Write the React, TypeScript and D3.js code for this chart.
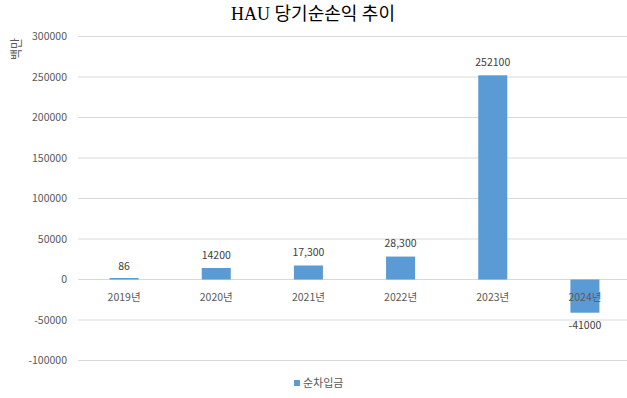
import React from "react";
import * as d3 from "d3";

const categories = ["2019년", "2020년", "2021년", "2022년", "2023년", "2024년"];
const values = [86, 14200, 17300, 28300, 252100, -41000];
const valueLabels = ["86", "14200", "17,300", "28,300", "252100", "-41000"];
const yTicks = [300000, 250000, 200000, 150000, 100000, 50000, 0, -50000, -100000];
const seriesName = "순차입금";
const title = "HAU 당기순손익 추이";
const yTitle = "백만";

const W = 627;
const H = 398;
const color = "#5B9BD5";
const textColor = "#595959";
const font = "'Noto Sans CJK KR', 'DejaVu Sans', sans-serif";

export default function App() {
  const x = d3.scaleBand<string>().domain(categories).range([78, 631]).paddingInner(0.685).paddingOuter(0.3425);
  const y = d3.scaleLinear().domain([-100000, 300000]).range([360.5, 36.5]);
  const bw = x.bandwidth();
  return (
    <svg width={W} height={H} style={{ position: "absolute", left: 0, top: 0, background: "#fff" }}>
      <rect width={W} height={H} fill="#fff" />
      <text x={313} y={20} textAnchor="middle" fontFamily="'Liberation Serif', 'Noto Sans CJK KR', serif" fontSize={18} fill="#000">
        {title}
      </text>
      <text transform="translate(21,49) rotate(-90)" textAnchor="middle" fontFamily={font} fontSize={12} fill={textColor}>
        {yTitle}
      </text>
      {yTicks.map((t) => (
        <g key={t}>
          <line x1={78} x2={631} y1={y(t)} y2={y(t)} stroke="#d9d9d9" strokeWidth={1} />
          <text x={67} y={y(t)} dy="0.35em" textAnchor="end" fontFamily={font} fontSize={10.5} fill={textColor}>
            {t}
          </text>
        </g>
      ))}
      {categories.map((c, i) => {
        const v = values[i];
        const x0 = x(c)!;
        const top = Math.min(y(v), y(0));
        const h = Math.max(Math.abs(y(v) - y(0)), 1.5);
        return (
          <g key={c}>
            <rect x={x0} y={v >= 0 ? y(0) - h : y(0)} width={bw} height={h} fill={color} />
            <text
              x={x0 + bw / 2}
              y={v >= 0 ? top - 13 : y(v) + 13}
              dy="0.35em"
              textAnchor="middle"
              fontFamily={font}
              fontSize={10.5}
              fill="#404040"
            >
              {valueLabels[i]}
            </text>
          </g>
        );
      })}
      {categories.map((c) => (
        <text key={c} x={x(c)! + bw / 2} y={297} dy="0.35em" textAnchor="middle" fontFamily={font} fontSize={10.5} fill={textColor}>
          {c}
        </text>
      ))}
      <rect x={294} y={380} width={6} height={6} fill={color} />
      <text x={303} y={383} dy="0.35em" fontFamily={font} fontSize={11} fill={textColor}>
        {seriesName}
      </text>
    </svg>
  );
}
